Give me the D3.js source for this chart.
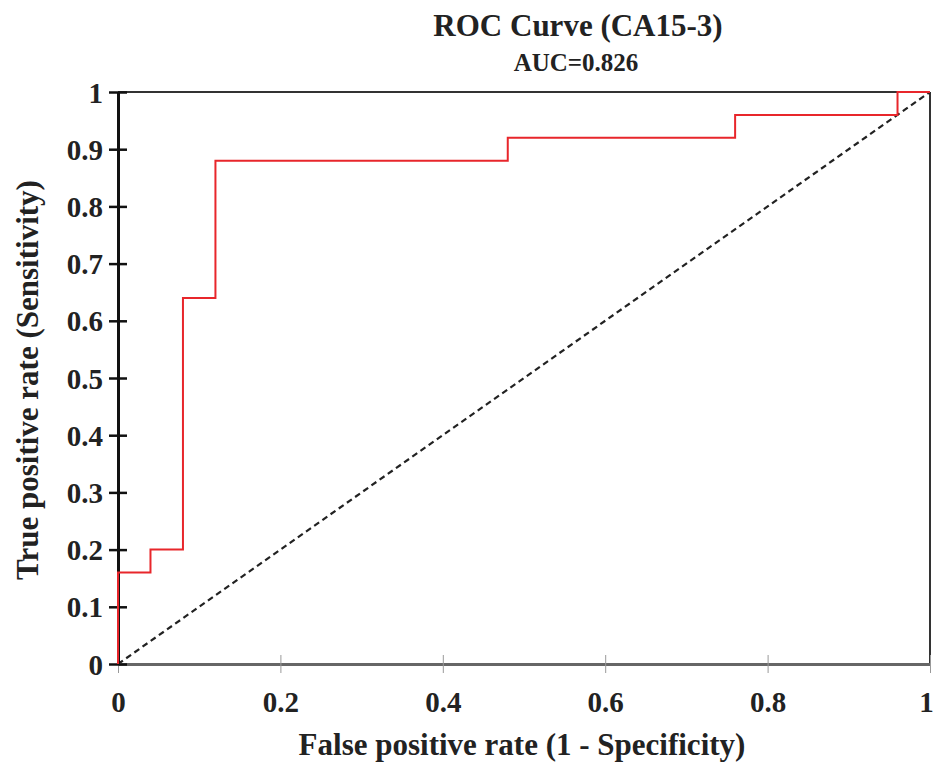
<!DOCTYPE html>
<html>
<head>
<meta charset="utf-8">
<script src="https://cdn.jsdelivr.net/npm/d3@7"></script>
<style>
  body { margin: 0; background: #fff; }
  text { font-family: "Liberation Serif", "Times New Roman", serif; font-weight: bold; fill: #222; }
</style>
</head>
<body>
<script>
var fpr = [0, 0, 0.04, 0.04, 0.08, 0.08, 0.12, 0.12, 0.48, 0.48, 0.76, 0.76, 0.96, 0.96, 1];
var tpr = [0, 0.16, 0.16, 0.2, 0.2, 0.64, 0.64, 0.88, 0.88, 0.92, 0.92, 0.96, 0.96, 1, 1];
var xTicks = [0, 0.2, 0.4, 0.6, 0.8, 1];
var yTicks = [0, 0.1, 0.2, 0.3, 0.4, 0.5, 0.6, 0.7, 0.8, 0.9, 1];

var width = 933, height = 766;
var plotLeft = 118, plotRight = 930, plotTop = 92, plotBottom = 664;

var svg = d3.select("body").append("svg")
	.attr("width", width)
	.attr("height", height);

var x = d3.scaleLinear().domain([0, 1]).range([plotLeft, plotRight]);
var y = d3.scaleLinear().domain([0, 1]).range([plotBottom, plotTop]);

// frame top/right
svg.append("line").attr("x1", plotLeft).attr("x2", plotRight).attr("y1", plotTop).attr("y2", plotTop)
	.attr("stroke", "#333").attr("stroke-width", 2);
svg.append("line").attr("x1", plotRight).attr("x2", plotRight).attr("y1", plotTop).attr("y2", plotBottom)
	.attr("stroke", "#333").attr("stroke-width", 2);

// diagonal
svg.append("line")
	.attr("x1", x(0)).attr("y1", y(0)).attr("x2", x(1)).attr("y2", y(1))
	.attr("stroke", "#222").attr("stroke-width", 2.2)
	.attr("stroke-dasharray", "6,4");

// x axis
var xAxis = svg.append("g").attr("transform", "translate(0," + plotBottom + ")")
	.call(d3.axisBottom(x).tickValues(xTicks).tickSizeInner(9).tickSizeOuter(0)
		.tickFormat(function(d) { return d3.format("")(d); }));
xAxis.select(".domain").attr("stroke", "#666").attr("stroke-width", 3);
xAxis.selectAll(".tick line").attr("stroke", "#999").attr("stroke-width", 1).attr("y1", -9);
xAxis.selectAll(".tick text").attr("dy", 0).attr("y", 48).style("font-size", "29px")
	.attr("dx", function(d) { return d === 1 ? -4 : 0; });

// y axis
var yAxis = svg.append("g").attr("transform", "translate(" + plotLeft + ",0)")
	.call(d3.axisLeft(y).tickValues(yTicks).tickSizeInner(9).tickSizeOuter(0)
		.tickFormat(function(d) { return d3.format("")(d); }));
yAxis.select(".domain").attr("stroke", "#111").attr("stroke-width", 3);
yAxis.selectAll(".tick line").attr("stroke", "#111").attr("stroke-width", 2.5).attr("x2", 9).attr("x1", -9);
yAxis.selectAll(".tick text").attr("x", -15).attr("dy", "0.35em").style("font-size", "29px");

// ROC curve
var line = d3.line()
	.x(function(d) { return x(d[0]); })
	.y(function(d) { return y(d[1]); });
svg.append("path")
	.datum(d3.zip(fpr, tpr))
	.attr("d", line)
	.attr("fill", "none")
	.attr("stroke", "#e8262b")
	.attr("stroke-width", 2);

// titles
svg.append("text").attr("x", 578).attr("y", 36).attr("text-anchor", "middle")
	.style("font-size", "31px").text("ROC Curve (CA15-3)");
svg.append("text").attr("x", 576).attr("y", 71).attr("text-anchor", "middle")
	.style("font-size", "25px").text("AUC=0.826");
svg.append("text").attr("x", 522).attr("y", 755).attr("text-anchor", "middle")
	.style("font-size", "31px").text("False positive rate (1 - Specificity)");
svg.append("text").attr("transform", "translate(38,380) rotate(-90)").attr("text-anchor", "middle")
	.style("font-size", "31px").text("True positive rate (Sensitivity)");
</script>
</body>
</html>
